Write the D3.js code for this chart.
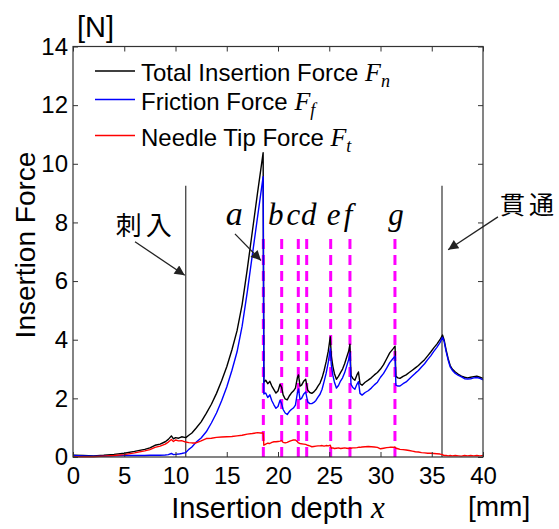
<!DOCTYPE html>
<html>
<head>
<meta charset="utf-8">
<script src="https://cdn.jsdelivr.net/npm/d3@7/dist/d3.min.js"></script>
<style>
body { margin: 0; background: #fff; }
text { font-family: "Liberation Sans", Arial, sans-serif; fill: #000; }
.it { font-family: "Liberation Serif", "Times New Roman", serif; font-style: italic; }
.jp { font-family: "Noto Sans CJK JP", sans-serif; }
</style>
</head>
<body>
<script>
// insertion depth [mm]
var depth = [0, 1, 2, 3, 4, 5, 6, 7, 7.5, 8, 8.5, 9, 9.3, 9.6, 9.8, 10, 10.3, 10.6, 11, 11.3, 11.6, 12, 12.5, 13, 13.5, 14, 14.5, 15, 15.5, 16, 16.5, 17, 17.5, 18, 18.3, 18.55,
  18.62, 18.8, 19.0, 19.2, 19.4, 19.6, 19.8, 20.0, 20.2, 20.35, 20.5, 20.7, 20.9, 21.1, 21.3, 21.5, 21.7, 21.9, 22.0, 22.15, 22.3, 22.5, 22.7, 22.9, 23.1, 23.3, 23.5, 23.7, 23.9, 24.1, 24.3, 24.5, 24.7, 24.9, 25.1,
  25.2, 25.35, 25.5, 25.7, 25.9, 26.1, 26.3, 26.5, 26.7, 26.9, 27.02,
  27.12, 27.3, 27.5, 27.7, 27.85, 28.0, 28.2, 28.5, 28.8, 29.1, 29.4, 29.7, 30.0, 30.3, 30.6, 30.9, 31.2, 31.42,
  31.5, 31.7, 31.9, 32.2, 32.5, 32.8, 33.1, 33.4, 33.7, 34.0, 34.3, 34.6, 34.9, 35.2, 35.5, 35.8, 36.05,
  36.2, 36.4, 36.6, 36.8, 37.0, 37.3, 37.6, 37.9, 38.2, 38.5, 38.8, 39.1, 39.4, 39.7, 40.0];

// total insertion force Fn [N]
var totalForce = [0.06, 0.05, 0.04, 0.06, 0.09, 0.13, 0.19, 0.26, 0.31, 0.40, 0.44, 0.52, 0.60, 0.72, 0.62, 0.66, 0.64, 0.69, 0.66, 0.74, 0.82, 0.98, 1.20, 1.49, 1.80, 2.17, 2.60, 3.08, 3.65, 4.30, 5.20, 6.40, 7.70, 9.00, 9.75, 10.38,
  2.55, 2.62, 2.50, 2.58, 2.42, 2.30, 2.18, 2.25, 2.48, 2.38, 2.12, 1.98, 1.95, 2.08, 2.18, 2.25, 2.35, 2.72, 2.80, 2.42, 2.45, 2.58, 2.65, 2.28, 2.20, 2.17, 2.22, 2.30, 2.42, 2.52, 2.70, 2.95, 3.25, 3.60, 4.10,
  3.45, 3.10, 2.85, 2.65, 2.75, 2.88, 3.00, 3.18, 3.40, 3.62, 3.85,
  2.78, 2.68, 2.62, 2.80, 2.90, 2.50, 2.45, 2.55, 2.62, 2.70, 2.80, 2.88, 3.00, 3.15, 3.35, 3.55, 3.68, 3.78,
  2.75, 2.70, 2.68, 2.75, 2.80, 2.88, 2.96, 3.04, 3.12, 3.22, 3.32, 3.45, 3.58, 3.72, 3.85, 4.00, 4.16,
  4.00, 3.65, 3.35, 3.12, 3.00, 2.90, 2.82, 2.76, 2.72, 2.70, 2.72, 2.74, 2.76, 2.72, 2.68];

// friction force Ff [N]
var frictionForce = [0.05, 0.04, 0.03, 0.03, 0.04, 0.05, 0.05, 0.05, 0.06, 0.06, 0.06, 0.07, 0.08, 0.12, 0.08, 0.09, 0.10, 0.12, 0.15, 0.26, 0.34, 0.50, 0.65, 0.86, 1.16, 1.50, 1.92, 2.39, 2.95, 3.58, 4.46, 5.62, 6.90, 8.17, 8.93, 9.56,
  2.15, 2.18, 2.03, 2.12, 1.92, 1.78, 1.66, 1.72, 1.94, 1.82, 1.62, 1.50, 1.45, 1.55, 1.62, 1.67, 1.77, 2.20, 2.32, 1.96, 2.00, 2.14, 2.22, 1.88, 1.82, 1.82, 1.86, 1.93, 2.04, 2.14, 2.31, 2.58, 2.86, 3.22, 3.70,
  3.15, 2.79, 2.56, 2.35, 2.44, 2.59, 2.70, 2.87, 3.10, 3.33, 3.55,
  2.48, 2.37, 2.31, 2.48, 2.57, 2.17, 2.11, 2.20, 2.26, 2.35, 2.46, 2.55, 2.72, 2.85, 3.03, 3.22, 3.35, 3.44,
  2.45, 2.42, 2.42, 2.50, 2.56, 2.66, 2.76, 2.86, 2.95, 3.07, 3.18, 3.32, 3.45, 3.60, 3.74, 3.90, 4.08,
  3.95, 3.60, 3.31, 3.07, 2.96, 2.85, 2.78, 2.73, 2.67, 2.66, 2.67, 2.70, 2.71, 2.68, 2.63];

// needle tip force Ft [N]
var tipForce = [0.01, 0.01, 0.01, 0.03, 0.05, 0.08, 0.14, 0.21, 0.25, 0.33, 0.37, 0.44, 0.51, 0.60, 0.53, 0.58, 0.55, 0.56, 0.51, 0.49, 0.48, 0.48, 0.55, 0.63, 0.64, 0.67, 0.68, 0.69, 0.70, 0.72, 0.74, 0.78, 0.80, 0.83, 0.82, 0.82,
  0.40, 0.44, 0.47, 0.46, 0.50, 0.52, 0.52, 0.53, 0.54, 0.56, 0.50, 0.48, 0.50, 0.53, 0.56, 0.58, 0.58, 0.52, 0.48, 0.46, 0.45, 0.44, 0.43, 0.40, 0.38, 0.35, 0.36, 0.37, 0.38, 0.38, 0.39, 0.37, 0.39, 0.38, 0.40,
  0.30, 0.31, 0.29, 0.30, 0.31, 0.29, 0.30, 0.31, 0.30, 0.29, 0.30,
  0.30, 0.31, 0.31, 0.32, 0.33, 0.33, 0.34, 0.35, 0.36, 0.35, 0.34, 0.33, 0.28, 0.30, 0.32, 0.33, 0.33, 0.34,
  0.30, 0.28, 0.26, 0.25, 0.24, 0.22, 0.20, 0.18, 0.17, 0.15, 0.14, 0.13, 0.13, 0.12, 0.11, 0.10, 0.08,
  0.05, 0.05, 0.04, 0.05, 0.04, 0.05, 0.04, 0.03, 0.05, 0.04, 0.05, 0.04, 0.05, 0.04, 0.05];

var xTicks = [0, 5, 10, 15, 20, 25, 30, 35, 40];
var yTicks = [0, 2, 4, 6, 8, 10, 12, 14];

// events a..g (magenta dashed lines)
var eventDepth = [18.57, 20.36, 21.98, 22.8, 25.14, 27.02, 31.41];
var eventName = ["a", "b", "c", "d", "e", "f", "g"];
// puncture start / through
var markerDepth = [11, 36];

var legendNames = ["Total Insertion Force ", "Friction Force ", "Needle Tip Force "];
var legendSubs = ["n", "f", "t"];
var seriesColors = ["#000000", "#0000ff", "#ff0000"];

// layout
var W = 559, H = 529;
var x = d3.scaleLinear().domain([0, 40]).range([73, 483]);
var y = d3.scaleLinear().domain([0, 14]).range([457, 46.5]);
var labelShift = [-29, -6, -5, 2, 3, -2, 1];

var svg = d3.select("body").append("svg")
  .attr("width", W)
  .attr("height", H);

svg.append("defs").append("marker")
  .attr("id", "arr")
  .attr("viewBox", "0 0 10 10")
  .attr("refX", 10).attr("refY", 5)
  .attr("markerUnits", "userSpaceOnUse")
  .attr("markerWidth", 14).attr("markerHeight", 10)
  .attr("orient", "auto")
  .append("path").attr("d", "M0,0 L10,5 L0,10 z").attr("fill", "#222");

// magenta dashed event lines
svg.selectAll(".ev").data(eventDepth).enter().append("line")
  .attr("x1", d => x(d)).attr("x2", d => x(d))
  .attr("y1", y(0)).attr("y2", y(7.5))
  .style("stroke", "#ff00ff").style("stroke-width", 3)
  .style("stroke-dasharray", "10,6");

// vertical lines 刺入 / 貫通
svg.selectAll(".mk").data(markerDepth).enter().append("line")
  .attr("x1", d => x(d)).attr("x2", d => x(d))
  .attr("y1", y(0)).attr("y2", y(9.25))
  .style("stroke", "#333").style("stroke-width", 1.2);

// curves
var series = [totalForce, frictionForce, tipForce];
var line = d3.line().x((d, i) => x(depth[i])).y(d => y(d));
series.forEach(function(s, k) {
  svg.append("path").datum(s)
    .attr("d", line)
    .style("fill", "none")
    .style("stroke", seriesColors[k])
    .style("stroke-width", 1.4)
    .style("stroke-linejoin", "round");
});

// axes with inward ticks
var gx = svg.append("g").attr("transform", "translate(0," + y(0) + ")")
  .call(d3.axisBottom(x).tickValues(xTicks).tickSizeInner(-5).tickSizeOuter(0).tickPadding(10));
var gy = svg.append("g").attr("transform", "translate(" + x(0) + ",0)")
  .call(d3.axisLeft(y).tickValues(yTicks).tickSizeInner(-5).tickSizeOuter(0).tickPadding(5));
var gt = svg.append("g").attr("transform", "translate(0," + y(14) + ")")
  .call(d3.axisTop(x).tickValues(xTicks).tickSizeInner(-5).tickSizeOuter(0).tickFormat(""));
var gr = svg.append("g").attr("transform", "translate(" + x(40) + ",0)")
  .call(d3.axisRight(y).tickValues(yTicks).tickSizeInner(-5).tickSizeOuter(0).tickFormat(""));
[gx, gy, gt, gr].forEach(function(g) {
  g.select(".domain").remove();
  g.selectAll("line").attr("stroke", "#333");
  g.selectAll("text").attr("font-size", 24).attr("fill", "#000")
    .style("font-family", '"Liberation Sans", Arial, sans-serif');
});
svg.append("rect")
  .attr("x", x(0)).attr("y", y(14))
  .attr("width", x(40) - x(0)).attr("height", y(0) - y(14))
  .style("fill", "none").style("stroke", "#333").style("stroke-width", 1.2);

// unit labels
svg.append("text").attr("x", 77).attr("y", 37).attr("font-size", 29).text("[N]");
svg.append("text").attr("x", 468).attr("y", 516).attr("font-size", 28).text("[mm]");

// axis titles
svg.append("text")
  .attr("transform", "translate(35,245) rotate(-90)")
  .attr("text-anchor", "middle").attr("font-size", 28)
  .text("Insertion Force");
var xt = svg.append("text").attr("x", 278).attr("y", 518)
  .attr("text-anchor", "middle").attr("font-size", 29);
xt.append("tspan").text("Insertion depth ");
xt.append("tspan").attr("class", "it").attr("font-size", 31).text("x");

// legend
var legY = [71, 99.5, 135.5];
legendNames.forEach(function(n, k) {
  svg.append("line")
    .attr("x1", 95).attr("x2", 135)
    .attr("y1", legY[k]).attr("y2", legY[k])
    .style("stroke", seriesColors[k]).style("stroke-width", 1.5);
  var t = svg.append("text").attr("x", 141).attr("y", legY[k] + 10).attr("font-size", 24);
  t.append("tspan").text(n);
  t.append("tspan").attr("class", "it").attr("font-size", 26).text("F");
  t.append("tspan").attr("class", "it").attr("font-size", 18).attr("dy", 6).text(legendSubs[k]);
});

// event letters
eventName.forEach(function(n, i) {
  svg.append("text").attr("class", "it")
    .attr("x", x(eventDepth[i]) + labelShift[i])
    .attr("y", y(7.5) - 12)
    .attr("text-anchor", "middle")
    .attr("font-size", i == 0 ? 34 : 31)
    .text(n);
});

// arrows
function arrow(x1, y1, x2, y2) {
  svg.append("line")
    .attr("x1", x(x1)).attr("y1", y(y1))
    .attr("x2", x(x2)).attr("y2", y(y2))
    .style("stroke", "#222").style("stroke-width", 1.3)
    .attr("marker-end", "url(#arr)");
}
arrow(6.05, 7.34, 10.9, 6.2);
arrow(15.8, 7.61, 18.34, 6.7);
arrow(41.46, 8.19, 36.6, 7.07);

svg.append("text").attr("class", "jp")
  .attr("x", x(7.1)).attr("y", y(7.87) + 9)
  .attr("text-anchor", "middle").attr("font-size", 26)
  .attr("letter-spacing", 4)
  .text("刺入");
svg.append("text").attr("class", "jp")
  .attr("x", x(44.5)).attr("y", y(8.6) + 9)
  .attr("text-anchor", "middle").attr("font-size", 25)
  .attr("letter-spacing", 4)
  .text("貫通");
</script>
</body>
</html>
